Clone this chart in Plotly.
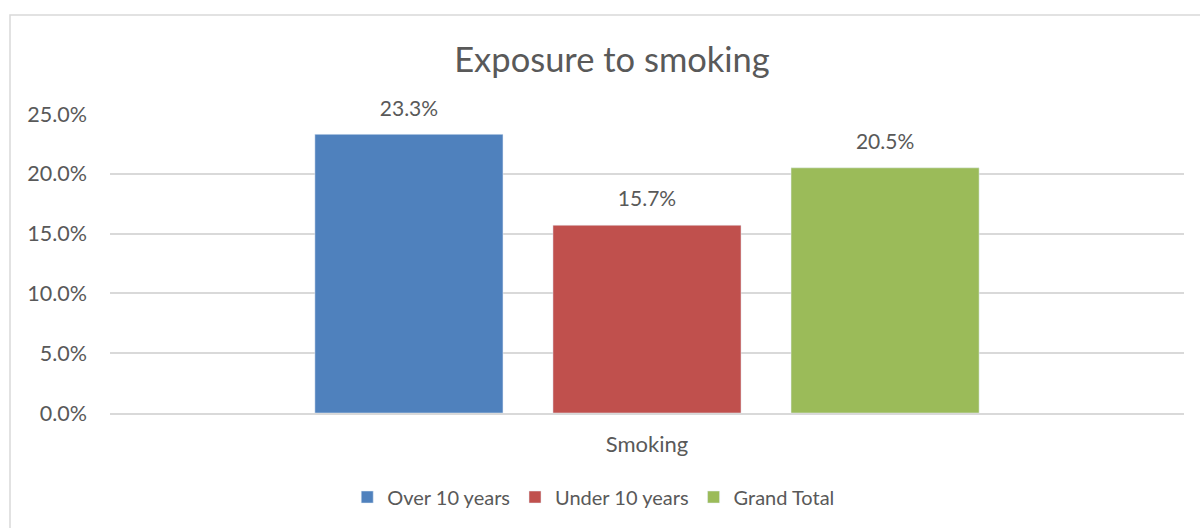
import plotly.graph_objects as go

categories = ["Smoking"]
series_names = ["Over 10 years", "Under 10 years", "Grand Total"]
series_values = [[0.233], [0.157], [0.205]]
series_colors = ["#4F81BD", "#C0504D", "#9BBB59"]
y_ticks = [0, 0.05, 0.10, 0.15, 0.20, 0.25]

FONT = "Lato"
TXT = "#595959"

fig = go.Figure()
for name, vals, col in zip(series_names, series_values, series_colors):
    fig.add_trace(go.Bar(
        x=categories, y=vals, name=name, marker_color=col,
        offsetgroup=name, hoverinfo="skip",
    ))
for name, vals in zip(series_names, series_values):
    fig.add_trace(go.Scatter(
        x=categories, y=vals, mode="markers+text", offsetgroup=name,
        text=[f"{v*100:.1f}%" for v in vals], textposition="top center",
        marker=dict(size=20, opacity=0), showlegend=False, cliponaxis=False,
        textfont=dict(family=FONT, size=21, color=TXT), hoverinfo="skip",
    ))

fig.update_layout(
    width=1200, height=528,
    margin=dict(l=110, r=16, t=114, b=115),
    paper_bgcolor="white", plot_bgcolor="white",
    barmode="group", scattermode="group",
    bargap=0.335, bargroupgap=0.21,
    title=dict(text="Exposure to smoking", x=0.51, xanchor="center",
               y=1 - 60 / 528, yanchor="middle",
               font=dict(family=FONT, size=34.5, color=TXT)),
    font=dict(family=FONT, color=TXT),
    xaxis=dict(showgrid=False, showline=True, linecolor="#D9D9D9", linewidth=1.5,
               ticks="", ticklabelstandoff=11,
               tickfont=dict(family=FONT, size=22, color=TXT)),
    yaxis=dict(range=[0, 0.25], tickvals=y_ticks, tickformat=".1%",
               showgrid=True, gridcolor="#D9D9D9", gridwidth=1.5,
               zeroline=False, showline=False, ticks="", ticklabelstandoff=22,
               tickfont=dict(family=FONT, size=21.5, color=TXT)),
    legend=dict(orientation="h", x=0.4504, xanchor="center", y=-0.281, yanchor="middle",
                font=dict(family=FONT, size=20, color=TXT), itemwidth=30,
                traceorder="normal"),
    showlegend=True,
    shapes=[dict(type="rect", xref="paper", yref="paper",
                 x0=(10 - 110) / 1074, x1=1.05, y0=-0.5, y1=(413 - 15) / 299,
                 line=dict(color="#D9D9D9", width=1.5), layer="below")],
)

fig.write_html("out.html")
